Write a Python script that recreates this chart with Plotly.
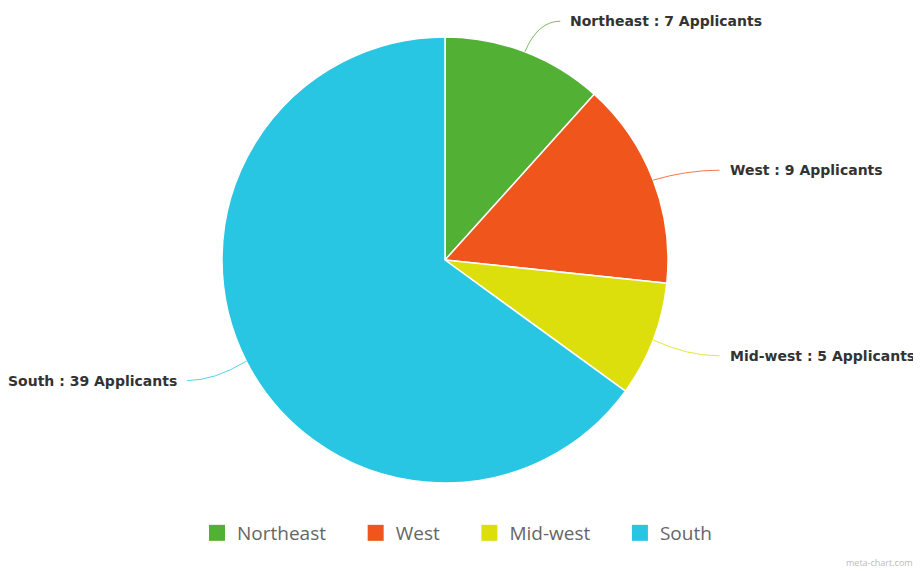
import math
import plotly.graph_objects as go

regions = ["Northeast", "West", "Mid-west", "South"]
applicants = [7, 9, 5, 39]
colors = ["#52b034", "#f0551c", "#dcdf0c", "#29c6e3"]

W, H = 921, 571
OFF = 8  # page body margin
CX, CY, R = 445, 260, 223

def px(x):
    return (x - OFF) / W

def py(y):
    return 1 - (y - OFF) / H

fig = go.Figure(go.Pie(
    labels=regions, values=applicants, sort=False, direction="clockwise", rotation=0,
    marker=dict(colors=colors, line=dict(color="#ffffff", width=1.5)),
    textinfo="none", hoverinfo="skip", showlegend=False,
    domain=dict(x=[px(CX - R), px(CX + R)], y=[py(CY + R), py(CY - R)]),
))

# legend entries (with a little trailing padding between items)
pad = "\u00a0" * 5
for i, (name, c) in enumerate(zip(regions, colors)):
    fig.add_trace(go.Scatter(x=[None], y=[None], mode="markers",
                             name=name + (pad if i < len(regions) - 1 else ""),
                             marker=dict(symbol="square", size=16, color=c), hoverinfo="skip"))

total = sum(applicants)
cum = 0
shapes, annotations = [], []
for name, v, c in zip(regions, applicants, colors):
    mid = (cum + v / 2) / total * 2 * math.pi
    cum += v
    s, co = math.sin(mid), -math.cos(mid)
    x0, y0 = CX + R * s, CY + R * co
    x1, y1 = CX + (R + 36) * s, CY + (R + 36) * co + 3
    side = 1 if s >= 0 else -1
    h = 16 + 18 * abs(s) if side > 0 else 27
    x2 = x1 + side * h
    shapes.append(dict(type="path", xref="paper", yref="paper",
                       path=f"M {px(x0)},{py(y0)} Q {px(x1)},{py(y1)} {px(x2)},{py(y1)}",
                       line=dict(color=c, width=0.8)))
    annotations.append(dict(x=px(x2 + side * 8), y=py(y1), xref="paper", yref="paper",
                            text=f"<b>{name} : {v} Applicants</b>", showarrow=False,
                            xanchor="left" if side > 0 else "right", yanchor="middle",
                            font=dict(family="DejaVu Sans", size=14, color="#333333")))

annotations.append(dict(x=px(915), y=py(562), xref="paper", yref="paper", text="meta-chart.com",
                        showarrow=False, xanchor="right", yanchor="middle",
                        font=dict(family="Open Sans, Liberation Sans", size=9, color="#bbbbbb")))

fig.update_layout(
    width=W, height=H, margin=dict(l=0, r=0, t=0, b=0),
    paper_bgcolor="white", plot_bgcolor="white",
    xaxis=dict(visible=False), yaxis=dict(visible=False),
    shapes=shapes, annotations=annotations,
    showlegend=True,
    legend=dict(orientation="h", x=px(457), xanchor="center", y=py(533), yanchor="middle",
                font=dict(family="Open Sans, Liberation Sans", size=19, color="#666666"),
                itemwidth=30, traceorder="normal"),
)

fig.write_html("out.html")
